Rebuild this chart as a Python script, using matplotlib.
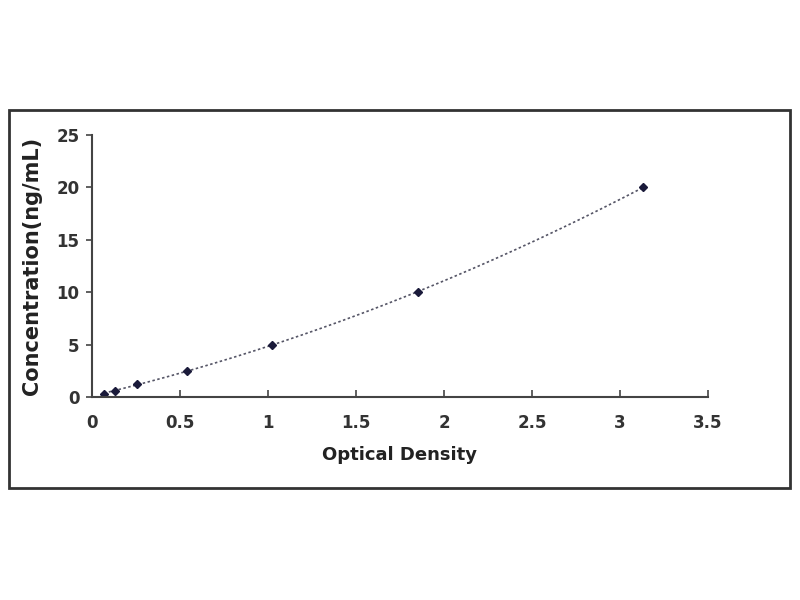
import matplotlib.pyplot as plt
import numpy as np
from matplotlib.patches import Rectangle

optical_density = [0.068, 0.131, 0.255, 0.54, 1.02, 1.85, 3.13]
concentration = [0.312, 0.625, 1.25, 2.5, 5, 10, 20]

x_ticks = [0, 0.5, 1, 1.5, 2, 2.5, 3, 3.5]
x_labels = ["0", "0.5", "1", "1.5", "2", "2.5", "3", "3.5"]
y_ticks = [0, 5, 10, 15, 20, 25]

plt.rcParams["font.family"] = ["DejaVu Sans"]

fig = plt.figure(figsize=(8, 6), dpi=100)
fig.patch.set_facecolor("white")

# outer frame
fig.patches.append(Rectangle((0.011, 0.187), 0.976, 0.63, transform=fig.transFigure,
                             fill=False, edgecolor="#333333", linewidth=2))

ax = fig.add_axes([0.115, 0.338, 0.77, 0.437])

# trend line (quadratic fit to the standards)
coef = np.polyfit(optical_density, concentration, 2)
xs = np.linspace(min(optical_density), max(optical_density), 200)
ax.plot(xs, np.polyval(coef, xs), linestyle=(0, (1.5, 1.5)), color="#555566", linewidth=1.2)
ax.plot(optical_density, concentration, linestyle="none", marker="D", markersize=4,
        color="#1a1a3a")

ax.set_xlim(0, 3.5)
ax.set_ylim(0, 25)
ax.set_xticks(x_ticks)
ax.set_xticklabels(x_labels)
ax.set_yticks(y_ticks)
for side in ["top", "right"]:
    ax.spines[side].set_visible(False)
for side in ["left", "bottom"]:
    ax.spines[side].set_linewidth(1.5)
    ax.spines[side].set_color("#444444")
ax.tick_params(axis="x", direction="in", length=5, width=1.2, color="#444444",
               labelsize=12, labelcolor="#333333", pad=12)
ax.tick_params(axis="y", direction="out", length=4, width=1.2, color="#444444",
               labelsize=12, labelcolor="#333333", pad=5)
for lbl in ax.get_xticklabels() + ax.get_yticklabels():
    lbl.set_fontweight("bold")

ax.set_xlabel("Optical Density", fontsize=13, fontweight="bold", color="#222222", labelpad=10)
ax.set_ylabel("Concentration(ng/mL)", fontsize=15, fontweight="bold", color="#222222", labelpad=10)

fig.savefig("out.png", dpi=100, facecolor="white")
